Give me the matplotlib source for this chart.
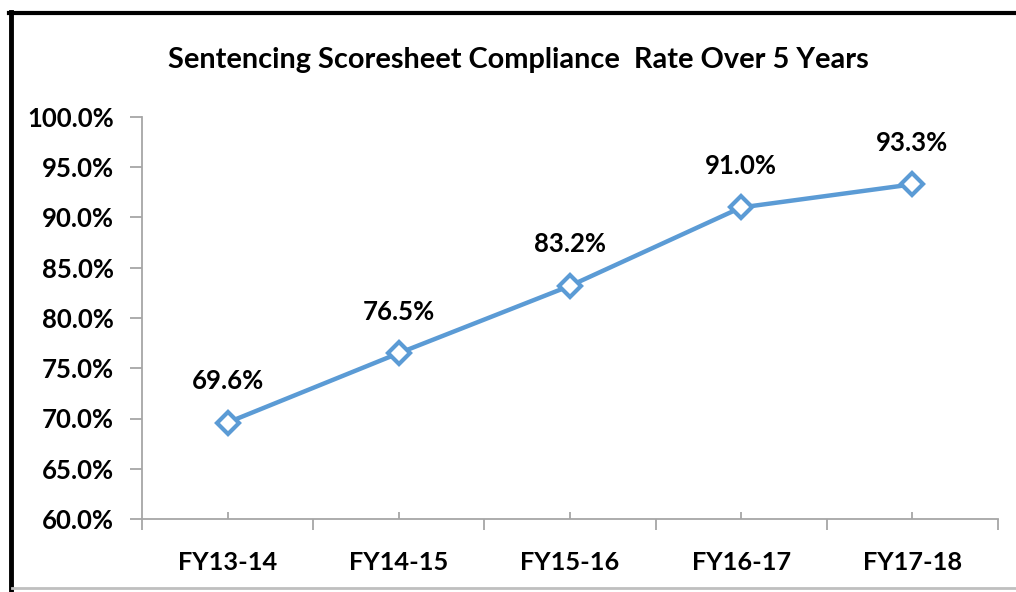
import matplotlib.pyplot as plt
from matplotlib.lines import Line2D
from matplotlib.ticker import FixedLocator, PercentFormatter

categories = ["FY13-14", "FY14-15", "FY15-16", "FY16-17", "FY17-18"]
rates = [69.6, 76.5, 83.2, 91.0, 93.3]
labels = ["69.6%", "76.5%", "83.2%", "91.0%", "93.3%"]

plt.rcParams['font.family'] = ['Lato', 'DejaVu Sans']
plt.rcParams['font.weight'] = 'bold'

W, H = 1016, 592
fig = plt.figure(figsize=(W / 100, H / 100), dpi=100)

# chart frame: black left/top, grey shadow at the bottom
fig.add_artist(Line2D([11 / W, 11 / W], [1 - 12 / H, 1 - 590 / H], color='black', linewidth=3.5))
fig.add_artist(Line2D([9 / W, 1.0], [1 - 13 / H, 1 - 13 / H], color='black', linewidth=3))
fig.add_artist(Line2D([12 / W, 1.0], [1 - 588 / H, 1 - 588 / H], color='#BFBFBF', linewidth=2))

ax = fig.add_axes([142 / W, 73 / H, 856 / W, 402 / H])
x = list(range(len(categories)))
ax.plot(x, rates, color='#5B9BD5', linewidth=3.2, marker='D', markersize=11,
        markerfacecolor='white', markeredgecolor='#5B9BD5', markeredgewidth=3, zorder=3)

for xi, v, lab in zip(x, rates, labels):
    ax.annotate(lab, (xi, v), xytext=(0, 30), textcoords='offset points',
                ha='center', va='center', fontsize=18.5, fontweight='bold')

ax.set_xlim(-0.5, len(categories) - 0.5)
ax.set_ylim(60, 100)
ax.yaxis.set_major_locator(FixedLocator([60, 65, 70, 75, 80, 85, 90, 95, 100]))
ax.yaxis.set_major_formatter(PercentFormatter(decimals=1))

# boundaries get outside ticks, category centres get small inside ticks
ax.xaxis.set_major_locator(FixedLocator([i - 0.5 for i in range(len(categories) + 1)]))
ax.set_xticklabels([])
ax.set_xticks(x, minor=True)
ax.set_xticklabels(categories, minor=True)
ax.tick_params(axis='x', which='major', direction='out', length=8, color='#A6A6A6', width=1.3)
ax.tick_params(axis='x', which='minor', direction='in', length=5, color='#A6A6A6', width=1.3,
               labelsize=18.3, pad=23)
ax.tick_params(axis='y', direction='out', length=9, color='#A6A6A6', width=1.3,
               labelsize=18.5, pad=11)

for side in ['top', 'right']:
    ax.spines[side].set_visible(False)
for side in ['left', 'bottom']:
    ax.spines[side].set_color('#A6A6A6')
    ax.spines[side].set_linewidth(1.3)

fig.text(518 / W, 1 - 60 / H, "Sentencing Scoresheet Compliance  Rate Over 5 Years",
         ha='center', va='center', fontsize=20.8, fontweight='bold')

fig.savefig('out.png', dpi=100)
